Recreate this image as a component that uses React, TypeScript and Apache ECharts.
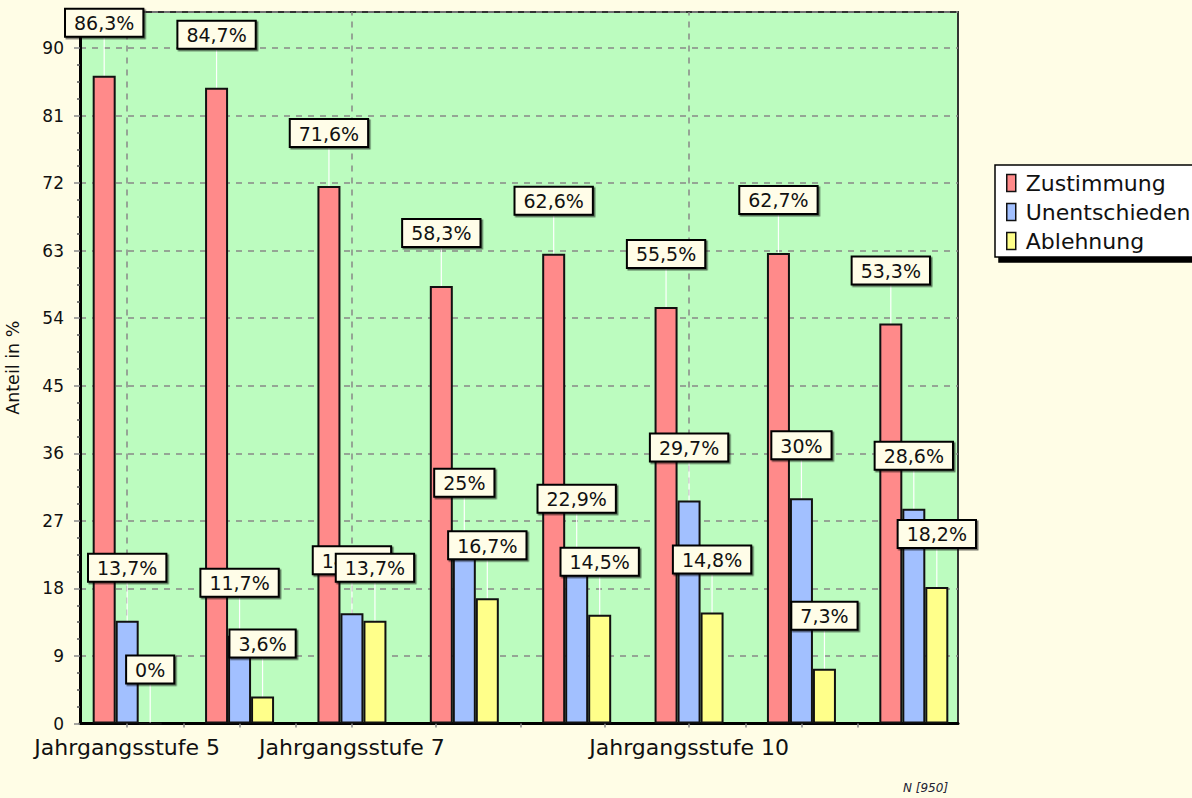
import React, { useEffect, useRef } from "react";
import * as echarts from "echarts";

const categories = [
  "Jahrgangsstufe 5",
  "Jahrgangsstufe 6",
  "Jahrgangsstufe 7",
  "Jahrgangsstufe 8",
  "Jahrgangsstufe 9",
  "Jahrgangsstufe 10",
  "Jahrgangsstufe 11",
  "Jahrgangsstufe 12",
];
const shownLabelIndices = [0, 2, 5];
const seriesNames = ["Zustimmung", "Unentschieden", "Ablehnung"];
const zustimmung = [86.3, 84.7, 71.6, 58.3, 62.6, 55.5, 62.7, 53.3];
const unentschieden = [13.7, 11.7, 14.7, 25, 22.9, 29.7, 30, 28.6];
const ablehnung = [0, 3.6, 13.7, 16.7, 14.5, 14.8, 7.3, 18.2];
const yMin = 0;
const yMax = 94.8;
const yInterval = 9;
const xTickValues = [0, 0.5, 1, 1.5, 2, 2.75, 3.5, 4.25, 5, 5.5, 6, 6.5];
const axisTitle = "Anteil in %";
const footnote = "N [950]";

const FONT = "DejaVu Sans";
const colors = ["#ff8a8a", "#a2c0ff", "#ffff8a"];
const seriesData = [zustimmung, unentschieden, ablehnung];

const fmt = (v: number) => String(v).replace(".", ",") + "%";

export default function App() {
  const ref = useRef<HTMLDivElement>(null);
  useEffect(() => {
    document.body.style.margin = "0";
    const chart = echarts.init(ref.current!, null, { renderer: "svg" });
    const series: any[] = seriesNames.map((name, i) => ({
      name,
      type: "bar",
      xAxisIndex: 1,
      yAxisIndex: 1,
      data: seriesData[i],
      barWidth: 23,
      barGap: "0%",
      itemStyle: { color: colors[i], borderColor: "#111", borderWidth: 2 },
      label: {
        show: true,
        position: "top",
        distance: 0,
        formatter: (p: any) => fmt(p.value),
        fontFamily: FONT,
        fontSize: 19,
        lineHeight: 21,
        color: "#111",
        backgroundColor: "#fffde8",
        borderColor: "#000",
        borderWidth: 2,
        padding: [3, 8, 2, 8],
        shadowColor: "rgba(0,0,0,0.55)",
        shadowOffsetX: 1.5,
        shadowOffsetY: 1.5,
        shadowBlur: 0,
      },
      labelLine: { show: true, lineStyle: { color: "#ffffff", width: 1.2 } },
      labelLayout: { dy: -40 },
      // the middle series sits on the category centre, so its markLine marks the centre
      ...(i === 1
        ? {
            markLine: {
              silent: true,
              z: 1,
              symbol: "none",
              label: { show: false },
              lineStyle: { color: "#888", type: [6, 6], width: 1.5 },
              data: shownLabelIndices.map((idx) => ({ xAxis: idx })),
            },
          }
        : {}),
    }));

    const option: any = {
      animation: false,
      backgroundColor: "#fffde6",
      textStyle: { fontFamily: FONT },
      grid: [
        {
          left: 80,
          right: 234,
          top: 12,
          bottom: 74.5,
          show: true,
          backgroundColor: "#bcfcbf",
          borderColor: "#333",
          borderWidth: 2,
          containLabel: false,
          outerBoundsMode: "none",
        },
        {
          left: 71,
          right: 222,
          top: 12,
          bottom: 74.5,
          containLabel: false,
          outerBoundsMode: "none",
        },
      ],
      xAxis: [
        {
          gridIndex: 0,
          type: "value",
          min: 0,
          max: 1,
          position: "bottom",
          axisLine: { show: true, lineStyle: { color: "#000", width: 3 } },
          axisTick: { show: false },
          axisLabel: { show: false },
          splitLine: { show: false },
        },
        {
          gridIndex: 1,
          type: "category",
          data: categories,
          position: "bottom",
          axisLine: { show: false },
          axisTick: { show: false },
          splitLine: { show: false },
          axisLabel: {
            interval: (idx: number) => shownLabelIndices.includes(idx),
            fontFamily: FONT,
            fontSize: 22,
            color: "#111",
            margin: 13,
          },
        },
        {
          gridIndex: 1,
          type: "value",
          min: -0.5,
          max: 7.5,
          position: "bottom",
          axisLine: { show: false },
          axisLabel: { show: false },
          splitLine: { show: false },
          axisTick: {
            show: true,
            customValues: xTickValues,
            length: 4,
            lineStyle: { color: "#888", width: 1.5 },
          },
        },
      ],
      yAxis: [
        {
          gridIndex: 0,
          type: "value",
          min: yMin,
          max: yMax,
          interval: yInterval,
          name: axisTitle,
          nameLocation: "middle",
          nameRotate: 90,
          nameGap: 58,
          nameTextStyle: { fontFamily: FONT, fontSize: 17.5, color: "#111" },
          axisLine: { show: true, lineStyle: { color: "#000", width: 3 } },
          axisTick: { show: true, length: 6, lineStyle: { color: "#888", width: 1.5 } },
          minorTick: { show: true, splitNumber: 4, length: 3, lineStyle: { color: "#555", width: 1.5 } },
          axisLabel: {
            fontFamily: FONT,
            fontSize: 17,
            color: "#111",
            margin: 16,
            formatter: (v: number) => (Math.abs(v % yInterval) < 1e-6 ? String(v) : ""),
          },
          splitLine: { show: true, lineStyle: { color: "#888", type: [6, 6], width: 1.5 } },
        },
        {
          gridIndex: 1,
          type: "value",
          min: yMin,
          max: yMax,
          interval: yInterval,
          show: false,
          splitLine: { show: false },
        },
      ],
      legend: {
        data: seriesNames,
        orient: "vertical",
        left: 995,
        top: 165,
        icon: "rect",
        itemWidth: 9,
        itemHeight: 17,
        itemGap: 7,
        padding: [7, 14, 5, 11],
        backgroundColor: "#ffffff",
        borderColor: "#000",
        borderWidth: 1.5,
        borderRadius: 0,
        shadowColor: "#000",
        shadowBlur: 0,
        shadowOffsetX: 4,
        shadowOffsetY: 5,
        itemStyle: { borderColor: "#111", borderWidth: 1.5 },
        textStyle: { fontFamily: FONT, fontSize: 22, color: "#111", padding: [0, 0, 0, 5] },
      },
      graphic: [
        {
          type: "text",
          left: 903,
          top: 782,
          style: { text: footnote, font: `italic 12px "${FONT}"`, fill: "#223" },
        },
      ],
      series,
    };
    chart.setOption(option);
    return () => chart.dispose();
  }, []);
  return <div ref={ref} style={{ width: 1192, height: 798 }} />;
}
